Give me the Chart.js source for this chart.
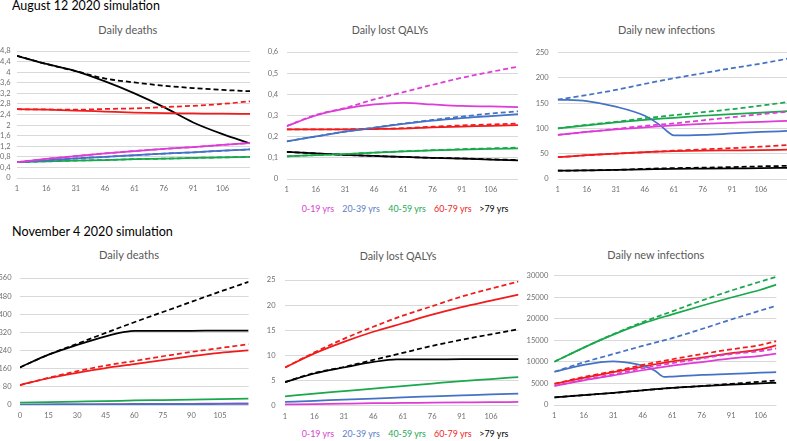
<!DOCTYPE html>
<html><head><meta charset="utf-8">
<script src="https://cdn.jsdelivr.net/npm/chart.js@4/dist/chart.umd.min.js"></script>
<style>
html,body{margin:0;padding:0;background:#fff;}
body{width:787px;height:441px;overflow:hidden;position:relative;font-family:Lato,'Open Sans',sans-serif;}
canvas{position:absolute;}
.t{position:absolute;white-space:nowrap;line-height:1;font-family:Lato,'Open Sans',sans-serif;}
</style></head><body>
<script>
// ---------- categories / ticks ----------
const ageGroups = ['0-19 yrs', '20-39 yrs', '40-59 yrs', '60-79 yrs', '>79 yrs'];
const augDays = [1, 16, 31, 46, 61, 76, 91, 106, 120];
const augXTicks = [1, 16, 31, 46, 61, 76, 91, 106];
const novDeathDays = [0, 15, 30, 45, 60, 75, 90, 105, 120];
const novDeathXTicks = [0, 15, 30, 45, 60, 75, 90, 105];
const novDays = [1, 16, 31, 46, 61, 76, 91, 106, 120];
const novInfDays = [1, 16, 31, 46, 61, 76, 91, 106, 114];
const novXTicks = [1, 16, 31, 46, 61, 76, 91, 106];

const augDeathsYTicks = [0, 0.4, 0.8, 1.2, 1.6, 2, 2.4, 2.8, 3.2, 3.6, 4, 4.4, 4.8];
const augQalyYTicks = [0, 0.1, 0.2, 0.3, 0.4, 0.5, 0.6];
const augInfYTicks = [0, 50, 100, 150, 200, 250];
const novDeathsYTicks = [0, 80, 160, 240, 320, 400, 480, 560];
const novQalyYTicks = [0, 5, 10, 15, 20, 25];
const novInfYTicks = [0, 5000, 10000, 15000, 20000, 25000, 30000];

// ---------- August 12 2020: daily deaths ----------
const augDeaths_0_19 = [0.60, 0.72, 0.83, 0.93, 1.02, 1.10, 1.17, 1.25, 1.32];
const augDeaths_0_19_dash = [0.60, 0.72, 0.83, 0.93, 1.02, 1.10, 1.17, 1.25, 1.32];
const augDeaths_20_39 = [0.60, 0.67, 0.74, 0.80, 0.86, 0.92, 0.97, 1.03, 1.08];
const augDeaths_20_39_dash = [0.60, 0.67, 0.74, 0.80, 0.86, 0.92, 0.97, 1.03, 1.08];
const augDeaths_40_59 = [0.60, 0.63, 0.66, 0.68, 0.71, 0.73, 0.76, 0.78, 0.80];
const augDeaths_40_59_dash = [0.60, 0.63, 0.66, 0.68, 0.71, 0.73, 0.76, 0.78, 0.80];
const augDeaths_60_79 = [2.60, 2.58, 2.55, 2.51, 2.47, 2.45, 2.44, 2.43, 2.42];
const augDeaths_60_79_dash = [2.60, 2.59, 2.58, 2.61, 2.63, 2.68, 2.73, 2.80, 2.90];
const augDeaths_80 = [4.62, 4.31, 4.04, 3.65, 3.20, 2.68, 2.10, 1.66, 1.31];
const augDeaths_80_dash = [4.62, 4.31, 4.04, 3.76, 3.61, 3.49, 3.40, 3.33, 3.28];

// ---------- August 12 2020: daily lost QALYs ----------
const augQaly_0_19 = [0.25, 0.30, 0.332, 0.352, 0.360, 0.352, 0.345, 0.343, 0.340];
const augQaly_0_19_dash = [0.25, 0.303, 0.335, 0.376, 0.410, 0.445, 0.478, 0.506, 0.531];
const augQaly_20_39 = [0.178, 0.201, 0.224, 0.242, 0.260, 0.276, 0.288, 0.297, 0.306];
const augQaly_20_39_dash = [0.178, 0.201, 0.224, 0.243, 0.262, 0.279, 0.295, 0.309, 0.320];
const augQaly_40_59 = [0.107, 0.113, 0.118, 0.125, 0.130, 0.135, 0.139, 0.142, 0.145];
const augQaly_40_59_dash = [0.107, 0.113, 0.118, 0.125, 0.131, 0.136, 0.141, 0.145, 0.148];
const augQaly_60_79 = [0.235, 0.235, 0.235, 0.236, 0.238, 0.244, 0.248, 0.251, 0.255];
const augQaly_60_79_dash = [0.235, 0.235, 0.235, 0.237, 0.240, 0.247, 0.253, 0.258, 0.262];
const augQaly_80 = [0.128, 0.121, 0.114, 0.109, 0.104, 0.100, 0.096, 0.092, 0.088];
const augQaly_80_dash = [0.128, 0.121, 0.114, 0.109, 0.104, 0.100, 0.097, 0.093, 0.090];

// ---------- August 12 2020: daily new infections ----------
const augInfBlueDays = [1, 16, 31, 46, 53, 58, 61, 76, 91, 106, 120];
const augInf_0_19 = [87, 93, 98, 102, 106, 109, 111, 113, 115];
const augInf_0_19_dash = [87, 93, 99, 105, 110, 116, 122, 128, 133];
const augInf_20_39 = [157, 154, 143, 125, 109, 93, 86, 87, 90, 93, 95];
const augInf_20_39_dash = [157, 166, 176, 188, 199, 209, 219, 228, 238];
const augInf_40_59 = [100, 106, 112, 117, 121, 125, 128, 131, 134];
const augInf_40_59_dash = [100, 107, 113, 120, 126, 132, 138, 145, 152];
const augInf_60_79 = [43, 47, 50, 53, 55, 56, 56.5, 57, 58];
const augInf_60_79_dash = [43, 47, 50, 53, 56, 58.5, 61, 64, 67];
const augInf_80 = [16.5, 17, 18, 19, 20, 20.5, 21, 21.5, 22];
const augInf_80_dash = [16.5, 17, 18, 20, 21.5, 22.5, 23.5, 25, 26];

// ---------- November 4 2020: daily deaths ----------
const novDeathBlackDays = [0, 15, 30, 45, 55, 60, 75, 90, 105, 120];
const novDeaths_0_19 = [1, 2, 3, 3.5, 4.5, 5, 5.5, 6.5, 7];
const novDeaths_20_39 = [2, 2.5, 3, 3, 3.5, 4, 4, 4.5, 5];
const novDeaths_40_59 = [11, 13, 15, 17, 20, 22, 24, 26, 28];
const novDeaths_60_79 = [88, 118, 142, 163, 180, 198, 215, 230, 241];
const novDeaths_60_79_dash = [88, 120, 149, 174, 194, 215, 234, 251, 268];
const novDeaths_80 = [166, 222, 265, 303, 322, 327, 327, 327, 328, 328];
const novDeaths_80_dash = [166, 222, 270, 318, 365, 410, 455, 500, 543];

// ---------- November 4 2020: daily lost QALYs ----------
const novQalyBlackDays = [1, 16, 31, 46, 58, 61, 76, 91, 106, 120];
const novQaly_0_19 = [0.25, 0.33, 0.42, 0.50, 0.55, 0.60, 0.65, 0.70, 0.75];
const novQaly_20_39 = [0.75, 0.97, 1.2, 1.42, 1.65, 1.85, 2.05, 2.25, 2.4];
const novQaly_40_59 = [1.85, 2.4, 2.9, 3.4, 3.9, 4.4, 4.9, 5.3, 5.7];
const novQaly_60_79 = [7.6, 10.4, 12.7, 14.7, 16.4, 18.1, 19.6, 20.9, 22.1];
const novQaly_60_79_dash = [7.6, 10.6, 13.3, 15.7, 17.9, 19.8, 21.7, 23.3, 24.7];
const novQaly_80 = [4.7, 6.4, 7.6, 8.7, 9.2, 9.2, 9.2, 9.25, 9.25, 9.25];
const novQaly_80_dash = [4.7, 6.5, 7.7, 9.1, 10.5, 11.9, 13.1, 14.2, 15.2];

// ---------- November 4 2020: daily new infections ----------
const novInfBlueDays = [1, 16, 31, 40, 46, 52, 57, 61, 76, 91, 106, 114];
const novInf_0_19 = [4400, 5700, 6850, 8050, 9100, 9950, 10800, 11400, 11900];
const novInf_0_19_dash = [4400, 5850, 7100, 8500, 9700, 10800, 11800, 12500, 13100];
const novInf_20_39 = [7700, 9300, 10100, 9700, 9100, 8000, 6500, 6600, 7000, 7200, 7500, 7600];
const novInf_20_39_dash = [7700, 9900, 11800, 13700, 15500, 17600, 19800, 21900, 23000];
const novInf_40_59 = [10000, 13300, 16300, 18900, 21000, 23000, 24900, 26700, 27900];
const novInf_40_59_dash = [10000, 13300, 16400, 19200, 21700, 24200, 26500, 28600, 29700];
const novInf_60_79 = [4900, 6300, 7600, 8900, 10100, 11000, 12000, 12900, 13800];
const novInf_60_79_dash = [4900, 6500, 7800, 9300, 10600, 11800, 12900, 13900, 14800];
const novInf_80 = [1750, 2300, 2800, 3400, 3950, 4350, 4700, 5000, 5150];
const novInf_80_dash = [1750, 2300, 2800, 3400, 3950, 4400, 4900, 5400, 5700];

// ---------- styles ----------
const groupColors = ['#DE3CD6', '#4472C4', '#19A84C', '#F01C1C', '#000000'];
const tickColor = '#6e6e6e';
const titleColor = '#595959';

const decFmt = v => String(Math.round(v * 10) / 10).replace('.', ',');
const intFmt = v => String(v);

function ser(g, dash, days, vals) { return { g, dash, days, vals }; }

const charts = [
  { canvasLeft: 0, L: 17, R: 250, T: 48, B: 178, ygap: 6.5, xmin: 1, xmax: 120, xticks: augXTicks, yticks: augDeathsYTicks, fmt: decFmt,
    series: [
      ser(0, true, augDays, augDeaths_0_19_dash), ser(1, true, augDays, augDeaths_20_39_dash), ser(2, true, augDays, augDeaths_40_59_dash),
      ser(3, true, augDays, augDeaths_60_79_dash), ser(4, true, augDays, augDeaths_80_dash),
      ser(0, false, augDays, augDeaths_0_19), ser(1, false, augDays, augDeaths_20_39), ser(2, false, augDays, augDeaths_40_59),
      ser(3, false, augDays, augDeaths_60_79), ser(4, false, augDays, augDeaths_80)] },
  { canvasLeft: 262, L: 286.7, R: 518, T: 47.7, B: 179, ygap: 8.5, xmin: 1, xmax: 120, xticks: augXTicks, yticks: augQalyYTicks, fmt: decFmt,
    series: [
      ser(0, true, augDays, augQaly_0_19_dash), ser(1, true, augDays, augQaly_20_39_dash), ser(2, true, augDays, augQaly_40_59_dash),
      ser(3, true, augDays, augQaly_60_79_dash), ser(4, true, augDays, augQaly_80_dash),
      ser(0, false, augDays, augQaly_0_19), ser(1, false, augDays, augQaly_20_39), ser(2, false, augDays, augQaly_40_59),
      ser(3, false, augDays, augQaly_60_79), ser(4, false, augDays, augQaly_80)] },
  { canvasLeft: 530, L: 557.7, R: 788, T: 47.7, B: 179, ygap: 9, xmin: 1, xmax: 120, xticks: augXTicks, yticks: augInfYTicks, fmt: intFmt,
    series: [
      ser(0, true, augDays, augInf_0_19_dash), ser(1, true, augDays, augInf_20_39_dash), ser(2, true, augDays, augInf_40_59_dash),
      ser(3, true, augDays, augInf_60_79_dash), ser(4, true, augDays, augInf_80_dash),
      ser(0, false, augDays, augInf_0_19), ser(1, false, augInfBlueDays, augInf_20_39), ser(2, false, augDays, augInf_40_59),
      ser(3, false, augDays, augInf_60_79), ser(4, false, augDays, augInf_80)] },
  { canvasLeft: 0, L: 20, R: 248.6, T: 273.3, B: 405, ygap: 8.5, xmin: 0, xmax: 120, xticks: novDeathXTicks, yticks: novDeathsYTicks, fmt: intFmt,
    series: [
      ser(3, true, novDeathDays, novDeaths_60_79_dash), ser(4, true, novDeathDays, novDeaths_80_dash),
      ser(2, false, novDeathDays, novDeaths_40_59), ser(1, false, novDeathDays, novDeaths_20_39), ser(0, false, novDeathDays, novDeaths_0_19),
      ser(3, false, novDeathDays, novDeaths_60_79), ser(4, false, novDeathBlackDays, novDeaths_80)] },
  { canvasLeft: 262, L: 285, R: 518.5, T: 274, B: 405.7, ygap: 9.5, xmin: 1, xmax: 120, xticks: novXTicks, yticks: novQalyYTicks, fmt: intFmt,
    series: [
      ser(3, true, novDays, novQaly_60_79_dash), ser(4, true, novDays, novQaly_80_dash),
      ser(0, false, novDays, novQaly_0_19), ser(1, false, novDays, novQaly_20_39), ser(2, false, novDays, novQaly_40_59),
      ser(3, false, novDays, novQaly_60_79), ser(4, false, novQalyBlackDays, novQaly_80)] },
  { canvasLeft: 522, L: 554.3, R: 776.4, T: 273.3, B: 405, ygap: 6, xmin: 1, xmax: 114, xticks: novXTicks, yticks: novInfYTicks, fmt: intFmt,
    series: [
      ser(0, true, novInfDays, novInf_0_19_dash), ser(1, true, novInfDays, novInf_20_39_dash), ser(2, true, novInfDays, novInf_40_59_dash),
      ser(3, true, novInfDays, novInf_60_79_dash), ser(4, true, novInfDays, novInf_80_dash),
      ser(0, false, novInfDays, novInf_0_19), ser(1, false, novInfBlueDays, novInf_20_39), ser(2, false, novInfDays, novInf_40_59),
      ser(3, false, novInfDays, novInf_60_79), ser(4, false, novInfDays, novInf_80)] }
];

function makeChart(spec) {
  const cv = document.createElement('canvas');
  const left = spec.canvasLeft, top = Math.floor(spec.T) - 8;
  const w = Math.ceil(spec.R - left) + 3, h = Math.round(spec.B - top) + 20;
  cv.width = w; cv.height = h;
  cv.style.left = left + 'px'; cv.style.top = top + 'px';
  cv.style.width = w + 'px'; cv.style.height = h + 'px';
  document.body.appendChild(cv);
  const yw = spec.L - left, xh = h - (spec.B - top);
  const tickFont = { family: 'Lato', size: 7.5 };
  new Chart(cv, {
    type: 'line',
    data: { datasets: spec.series.map(s => ({
      label: ageGroups[s.g] + (s.dash ? ' (dashed)' : ''),
      data: s.days.map((d, i) => ({ x: d, y: s.vals[i] })),
      borderColor: groupColors[s.g], backgroundColor: groupColors[s.g],
      borderWidth: 1.75, borderDash: s.dash ? [5, 3] : [],
      pointRadius: 0, fill: false, cubicInterpolationMode: 'monotone'
    })) },
    options: {
      responsive: false, animation: false, devicePixelRatio: 1,
      layout: { padding: { top: spec.T - top, right: w - (spec.R - left), bottom: 0, left: 0 } },
      plugins: { legend: { display: false }, title: { display: false }, tooltip: { enabled: false } },
      scales: {
        x: { type: 'linear', min: spec.xmin, max: spec.xmax,
          grid: { display: false, drawTicks: false }, border: { display: false },
          afterBuildTicks: s => { s.ticks = spec.xticks.map(v => ({ value: v })); },
          afterFit: s => { s.height = xh; },
          ticks: { autoSkip: false, maxRotation: 0, padding: 6.5, color: tickColor, font: tickFont, callback: v => String(v) } },
        y: { type: 'linear', min: spec.yticks[0], max: spec.yticks[spec.yticks.length - 1],
          grid: { color: '#D9D9D9', lineWidth: 1, drawTicks: false }, border: { display: false },
          afterBuildTicks: s => { s.ticks = spec.yticks.map(v => ({ value: v })); },
          afterFit: s => { s.width = yw; },
          ticks: { autoSkip: false, padding: spec.ygap, color: tickColor, font: tickFont, callback: spec.fmt } }
      }
    }
  });
}
charts.forEach(makeChart);

// ---------- text ----------
function placeText(txt, o) {
  const el = document.createElement('div');
  el.className = 't'; el.textContent = txt; el.style.color = o.color || '#000';
  el.style.fontSize = '20px';
  const probe = document.createElement('span');
  probe.style.cssText = 'display:inline-block;width:0;height:0;vertical-align:baseline;';
  el.appendChild(probe);
  document.body.appendChild(el);
  let fs = o.size;
  if (o.width) fs = 20 * o.width / el.getBoundingClientRect().width;
  el.style.fontSize = fs + 'px';
  const r = el.getBoundingClientRect();
  const baseOff = probe.getBoundingClientRect().top - r.top;
  el.style.left = (o.align === 'center' ? o.x - r.width / 2 : o.x) + 'px';
  el.style.top = (o.baseline - baseOff) + 'px';
  return fs;
}
placeText('August 12 2020 simulation', { x: 12, baseline: 9.5, width: 148 });
placeText('November 4 2020 simulation', { x: 12, baseline: 235.7, width: 161 });
placeText('Daily deaths', { x: 127.8, baseline: 34, width: 59, align: 'center', color: titleColor });
placeText('Daily lost QALYs', { x: 390, baseline: 34, width: 76.5, align: 'center', color: titleColor });
placeText('Daily new infections', { x: 666.5, baseline: 34, width: 97, align: 'center', color: titleColor });
placeText('Daily deaths', { x: 129, baseline: 259.3, width: 60, align: 'center', color: titleColor });
placeText('Daily lost QALYs', { x: 398, baseline: 260, width: 76.7, align: 'center', color: titleColor });
placeText('Daily new infections', { x: 655.8, baseline: 259.3, width: 97, align: 'center', color: titleColor });

const legendLefts = [301.7, 342.3, 388.3, 434, 479.3];
const legendColors = ['#D83FD0', '#5A7EC6', '#27A853', '#EC2626', '#000000'];
[212.3, 437.3].forEach(bl => {
  const fs = placeText(ageGroups[1], { x: legendLefts[1], baseline: bl, width: 37.7, color: legendColors[1] });
  [0, 2, 3, 4].forEach(i => placeText(ageGroups[i], { x: legendLefts[i], baseline: bl, size: fs, color: legendColors[i] }));
});
</script>
</body></html>
